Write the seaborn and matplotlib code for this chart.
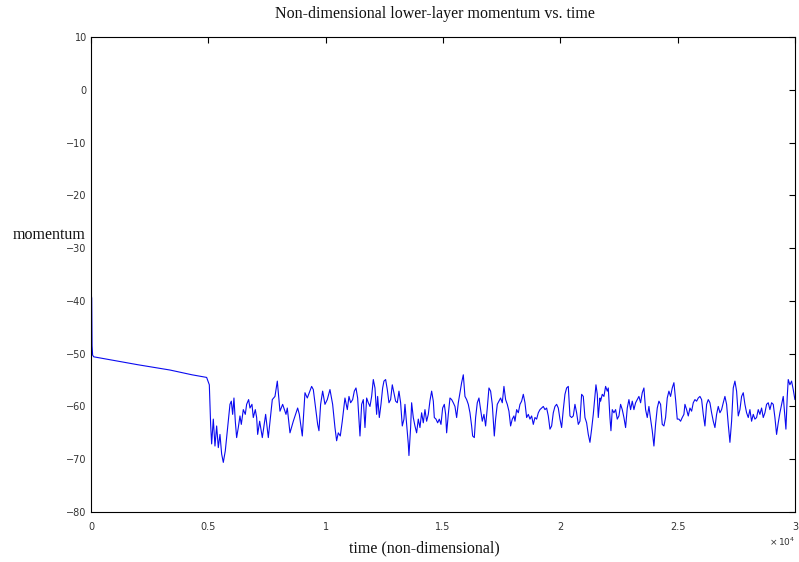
import matplotlib
matplotlib.use("Agg")
import matplotlib.pyplot as plt
import seaborn as sns
import pandas as pd

# ---- data ----
time = [0, 30, 45, 70, 120, 1000, 2000, 3366, 4300, 4928, 5042, 5098,
        5141, 5212, 5283, 5354, 5425, 5496, 5567, 5638, 5723, 5808, 5922, 5979,
        6036, 6092, 6149, 6206, 6277, 6348, 6405, 6490, 6575, 6632, 6717, 6774,
        6859, 6916, 7001, 7059, 7102, 7187, 7300, 7442, 7556, 7726, 7840, 7939,
        8053, 8167, 8309, 8365, 8479, 8621, 8806, 8877, 9004, 9118, 9217, 9303,
        9402, 9473, 9572, 9658, 9714, 9785, 9871, 9970, 10069, 10183, 10297, 10396,
        10467, 10538, 10623, 10708, 10822, 10922, 10993, 11064, 11150, 11221, 11292, 11363,
        11462, 11533, 11604, 11675, 11746, 11817, 11888, 11959, 12030, 12101, 12172, 12215,
        12286, 12357, 12428, 12484, 12555, 12626, 12697, 12768, 12839, 12910, 12981, 13052,
        13123, 13194, 13265, 13336, 13379, 13450, 13521, 13549, 13620, 13663, 13734, 13805,
        13876, 13947, 14018, 14089, 14160, 14231, 14302, 14373, 14445, 14516, 14587, 14630,
        14701, 14772, 14843, 14914, 14985, 15056, 15112, 15155, 15226, 15297, 15368, 15439,
        15510, 15581, 15652, 15723, 15794, 15865, 15936, 16007, 16078, 16149, 16220, 16263,
        16334, 16390, 16461, 16532, 16603, 16674, 16745, 16816, 16887, 16958, 17029, 17100,
        17186, 17242, 17313, 17384, 17455, 17526, 17597, 17668, 17739, 17810, 17881, 17952,
        18023, 18067, 18138, 18209, 18280, 18351, 18422, 18493, 18564, 18635, 18706, 18777,
        18848, 18919, 18990, 19061, 19132, 19203, 19274, 19345, 19416, 19487, 19558, 19629,
        19700, 19771, 19842, 19913, 19984, 20055, 20126, 20197, 20268, 20339, 20410, 20481,
        20552, 20623, 20694, 20765, 20836, 20907, 20978, 21049, 21120, 21191, 21262, 21333,
        21404, 21475, 21518, 21575, 21617, 21688, 21716, 21787, 21858, 21929, 22000, 22043,
        22114, 22157, 22213, 22284, 22355, 22426, 22497, 22568, 22639, 22710, 22781, 22852,
        22923, 22994, 23065, 23136, 23207, 23278, 23349, 23420, 23491, 23562, 23633, 23704,
        23775, 23846, 23917, 23988, 24059, 24130, 24201, 24272, 24343, 24414, 24485, 24556,
        24627, 24698, 24769, 24840, 24911, 24982, 25053, 25124, 25195, 25266, 25310, 25381,
        25452, 25523, 25594, 25665, 25736, 25807, 25878, 25949, 26020, 26091, 26162, 26233,
        26304, 26375, 26446, 26517, 26588, 26659, 26730, 26801, 26872, 26943, 27014, 27085,
        27156, 27227, 27298, 27369, 27440, 27511, 27582, 27653, 27724, 27795, 27866, 27937,
        28008, 28079, 28150, 28221, 28292, 28363, 28434, 28505, 28576, 28647, 28718, 28789,
        28860, 28931, 29002, 29073, 29144, 29215, 29286, 29357, 29428, 29499, 29570, 29613,
        29670, 29712, 29783, 29854, 29925, 29996]

momentum = [-38.5, -39.5, -48.5, -50.3, -50.6, -51.3, -52.1, -53.1, -54.0, -54.5, -55.9, -63.4,
            -67.1, -62.4, -67.5, -63.7, -67.8, -65.3, -69.0, -70.6, -68.4, -64.6, -59.6, -59.0,
            -61.5, -58.4, -62.8, -65.9, -64.0, -61.8, -63.4, -60.6, -61.5, -59.6, -58.7, -60.3,
            -59.6, -62.1, -60.6, -62.1, -65.3, -62.8, -65.9, -61.5, -65.9, -58.7, -58.1, -55.2,
            -60.9, -59.6, -61.5, -60.3, -65.0, -62.8, -60.3, -61.5, -65.6, -57.4, -58.4, -57.4,
            -56.2, -56.8, -60.3, -63.4, -64.6, -59.6, -57.1, -59.6, -58.7, -56.8, -59.6, -64.0,
            -66.5, -65.0, -65.6, -62.8, -58.4, -60.6, -58.1, -59.3, -58.7, -57.1, -56.5, -58.4,
            -65.6, -59.6, -58.7, -64.0, -58.4, -59.3, -60.0, -58.1, -54.9, -56.5, -61.5, -58.1,
            -62.1, -59.6, -56.5, -55.2, -54.9, -56.8, -59.3, -58.7, -55.9, -57.4, -59.0, -59.3,
            -57.1, -59.3, -63.7, -62.4, -59.6, -63.4, -67.1, -69.3, -64.0, -59.3, -62.1, -63.7,
            -65.0, -62.4, -64.0, -61.2, -63.1, -60.6, -62.8, -61.5, -58.9, -57.1, -59.0, -62.1,
            -62.4, -63.1, -62.4, -63.4, -60.3, -59.6, -61.5, -65.0, -61.5, -58.4, -58.7, -59.3,
            -60.0, -62.1, -59.3, -57.4, -55.5, -54.0, -58.1, -58.7, -59.6, -61.2, -63.7, -65.6,
            -65.9, -62.1, -59.3, -58.4, -60.6, -62.8, -61.5, -63.7, -60.3, -56.5, -57.1, -59.6,
            -65.6, -62.4, -59.6, -59.0, -58.4, -59.3, -56.2, -58.7, -59.6, -60.9, -63.7, -62.4,
            -61.8, -62.8, -60.6, -61.2, -59.6, -59.0, -57.7, -59.3, -62.1, -61.5, -62.4, -61.8,
            -63.4, -62.1, -62.4, -61.2, -60.6, -60.3, -60.0, -60.6, -60.3, -61.8, -64.3, -63.7,
            -61.2, -60.0, -59.6, -60.3, -62.4, -64.0, -60.6, -57.7, -56.5, -56.2, -61.8, -62.1,
            -61.8, -59.6, -61.2, -63.4, -62.8, -57.7, -58.1, -62.1, -63.1, -65.3, -66.8, -64.3,
            -61.5, -58.1, -55.9, -57.7, -62.1, -58.4, -59.0, -57.7, -58.1, -56.2, -57.1, -56.5,
            -62.1, -64.6, -60.6, -61.2, -60.6, -62.4, -61.8, -59.6, -60.6, -62.1, -64.0, -60.3,
            -58.7, -60.6, -59.0, -60.6, -59.3, -58.7, -58.1, -59.3, -57.4, -56.5, -60.6, -62.1,
            -60.0, -62.4, -64.6, -67.5, -63.4, -60.3, -59.0, -59.6, -63.4, -63.7, -62.1, -58.4,
            -57.1, -58.1, -56.5, -55.5, -58.7, -62.4, -62.4, -62.8, -62.1, -61.5, -59.6, -60.6,
            -61.8, -60.3, -60.9, -59.3, -58.7, -59.0, -58.4, -58.1, -58.7, -61.5, -63.7, -59.6,
            -58.7, -59.3, -61.2, -62.8, -64.0, -61.5, -60.0, -61.2, -60.6, -59.3, -58.1, -59.6,
            -63.4, -66.8, -62.8, -56.5, -55.2, -57.1, -61.8, -60.6, -58.1, -57.4, -59.6, -61.2,
            -62.1, -60.6, -62.8, -61.5, -62.4, -62.1, -60.6, -61.5, -60.3, -62.1, -61.2, -59.6,
            -59.3, -60.6, -59.3, -59.6, -62.1, -65.3, -63.1, -61.2, -59.6, -58.1, -62.1, -64.3,
            -58.1, -54.9, -55.9, -55.2, -56.8, -58.7]

x_ticks = [0, 5000, 10000, 15000, 20000, 25000, 30000]
x_tick_labels = ["0", "0.5", "1", "1.5", "2", "2.5", "3"]
y_ticks = [-80, -70, -60, -50, -40, -30, -20, -10, 0, 10]
y_tick_labels = ["\u221280", "\u221270", "\u221260", "\u221250", "\u221240",
                 "\u221230", "\u221220", "\u221210", "0", "10"]

title = "Non-dimensional lower-layer momentum vs. time"
x_label = "time (non-dimensional)"
y_label = "momentum"

df = pd.DataFrame({"time": time, "momentum": momentum})

# ---- figure ----
sns.set_style("white")
plt.rcParams["font.family"] = ["DejaVu Sans"]

fig = plt.figure(figsize=(7.99, 5.62), dpi=100)
ax = fig.add_axes([91 / 799, 1 - 512 / 562, (795 - 91) / 799, (512 - 37) / 562])

sns.lineplot(data=df, x="time", y="momentum", ax=ax, color="#0a0af0",
             linewidth=0.8, estimator=None, sort=False)

ax.set_xlim(0, 30000)
ax.set_ylim(-80, 10)
ax.set_xticks(x_ticks)
ax.set_xticklabels(x_tick_labels)
ax.set_yticks(y_ticks)
ax.set_yticklabels(y_tick_labels)
ax.set_xlabel("")
ax.set_ylabel("")

ax.tick_params(direction="in", top=True, right=True, length=4, width=0.8,
               labelsize=7, labelcolor="#333333", color="black")
ax.tick_params(axis="x", pad=7)
ax.tick_params(axis="y", pad=3)
for s in ax.spines.values():
    s.set_color("black")
    s.set_linewidth(0.8)
    s.set_visible(True)

serif = ["Liberation Serif", "DejaVu Serif"]
fig.text(435 / 799, 1 - 14 / 562, title, ha="center", va="center",
         family=serif, fontsize=11.5, color="#111111")
fig.text(424 / 799, 1 - 548 / 562, x_label, ha="center", va="center",
         family=serif, fontsize=11.5, color="#111111")
fig.text(49 / 799, 1 - 235 / 562, y_label, ha="center", va="center",
         family=serif, fontsize=11.5, color="#111111")
fig.text(769 / 799, 1 - 542 / 562, r"$\times\,10^{4}$", ha="left", va="center",
         fontsize=6.5, color="#333333")

fig.savefig("out.png", dpi=100, facecolor="white")
